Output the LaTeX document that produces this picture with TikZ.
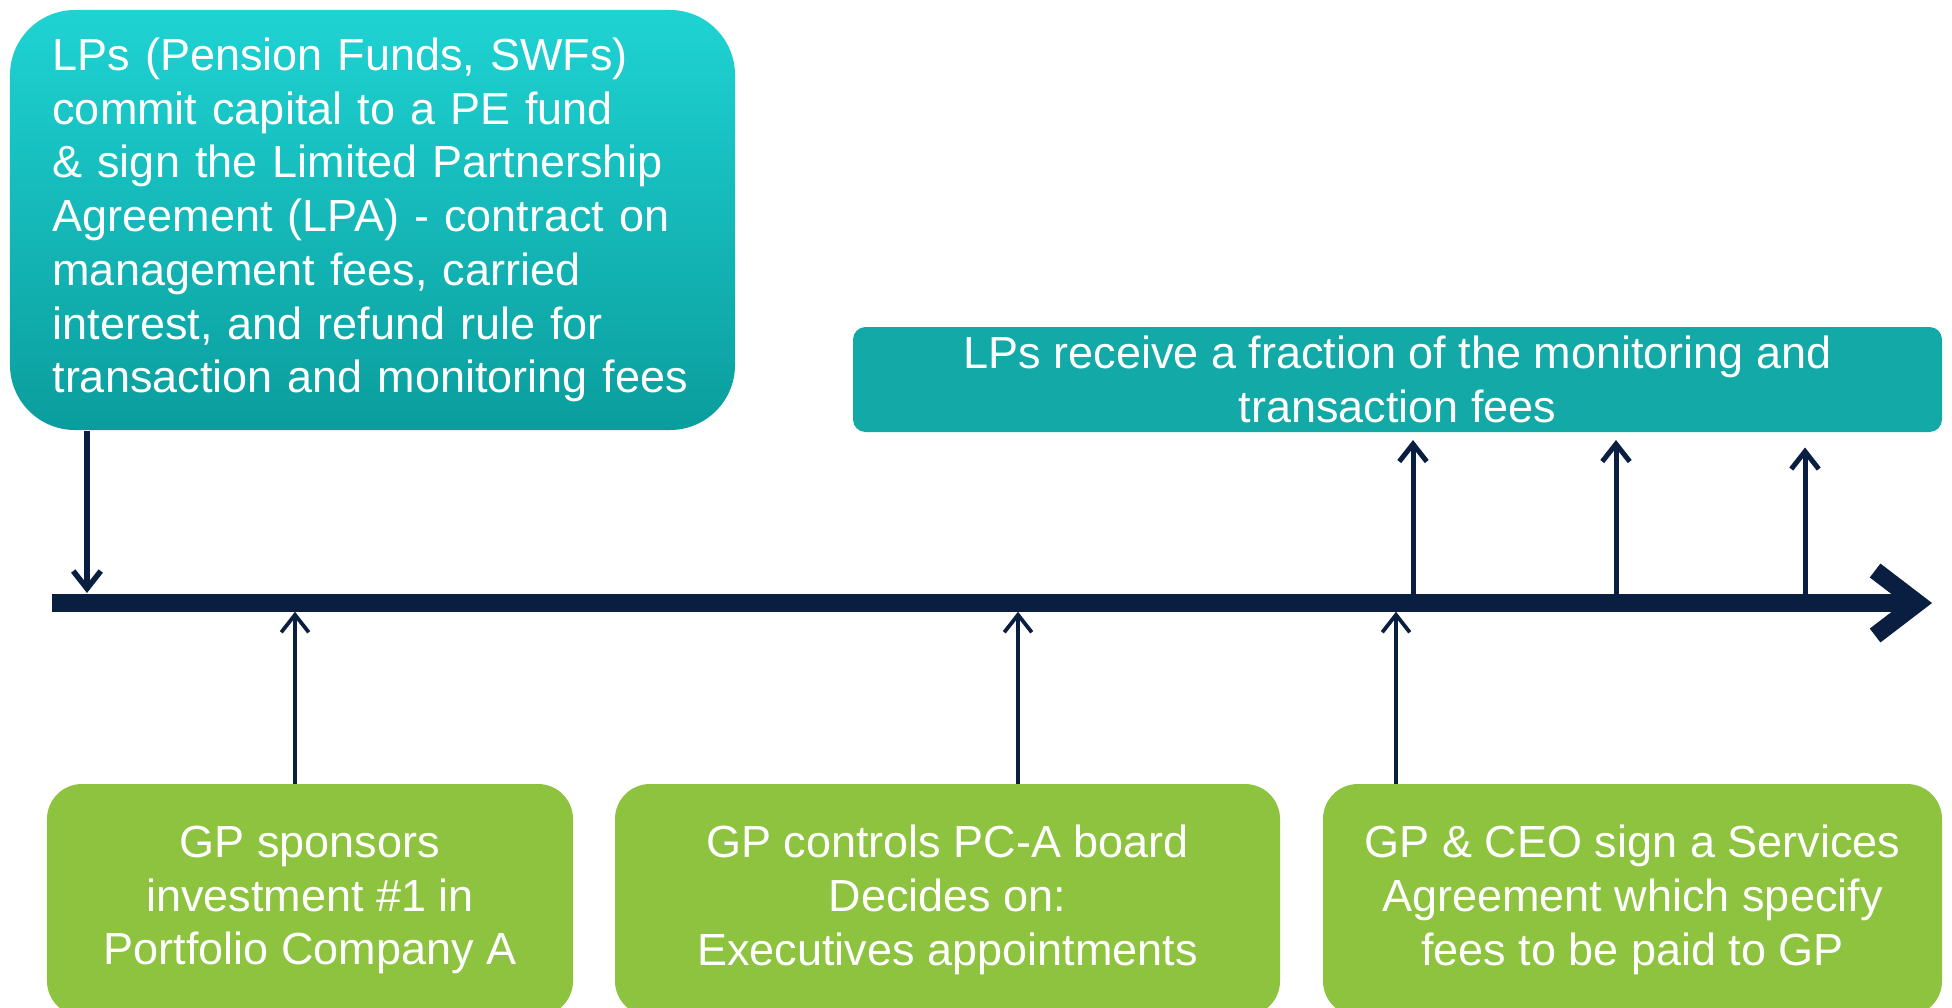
\documentclass[tikz,border=0pt]{standalone}
\usepackage{fontspec}
\setmainfont{Liberation Sans}
\usetikzlibrary{arrows.meta}
\definecolor{navy}{HTML}{0A1E42}
\definecolor{tealtop}{HTML}{1FD3D3}
\definecolor{tealbot}{HTML}{0B9D9D}
\definecolor{tealflat}{HTML}{12A9A6}
\definecolor{leaf}{HTML}{8DC33F}

\begin{document}
\begin{tikzpicture}[x=0.4pt,y=-0.4pt,
  every node/.style={text=white,font=\fontsize{18pt}{21.5pt}\selectfont},
  gpbox/.style={fill=leaf,rounded corners=14pt,minimum height=92.8pt,align=center,inner sep=0pt},
  tick/.style={draw=navy,line width=1.5pt,-{Straight Barb[length=7pt,width=11pt]},shorten >=3.5pt}]
\useasboundingbox (0,0) rectangle (1952,1007);

%put the LP box on the top left
\node[top color=tealtop,bottom color=tealbot,rounded corners=26pt,minimum width=290pt,
  minimum height=168pt,align=left,text width=256pt] (lp) at (372.5,220)
  {LPs (Pension Funds, SWFs)\\commit capital to a PE fund\\\& sign the Limited Partnership\\
   Agreement (LPA) - contract on\\management fees, carried\\interest, and refund rule for\\
   transaction and monitoring fees};

\node[fill=tealflat,rounded corners=5pt,minimum width=435.6pt,minimum height=42pt,
  align=center,inner sep=0pt] (fees) at (1397.5,379.5)
  {LPs receive a fraction of the monitoring and\\transaction fees};

%the time line
\coordinate (start) at (52,603);
\coordinate (end) at (1932,603);
\draw[navy,line width=7pt,-{Straight Barb[length=17pt,width=26pt]}] (start) -- (end);

\coordinate (in1) at (87,603);
\coordinate (s1) at (295,603);
\coordinate (s2) at (1018,603);
\coordinate (s3) at (1396,603);
\coordinate (f1) at (1413,603);
\coordinate (f2) at (1616,603);
\coordinate (f3) at (1805,603);

%put the GP boxes on the bottom
\node[gpbox,minimum width=210.4pt] (b1) at (310,900) {GP sponsors\\investment \#1 in\\Portfolio Company A};
\node[gpbox,minimum width=266pt] (b2) at (947.5,900) {GP controls PC-A board\\Decides on:\\Executives appointments};
\node[gpbox,minimum width=247.6pt] (b3) at (1632.5,900) {GP \& CEO sign a Services\\Agreement which specify\\fees to be paid to GP};

\draw[tick,line width=2.2pt,shorten >=4pt] (lp.south -| in1) -- (in1);
\draw[tick,line width=2pt,shorten >=3pt] (f1) -- (fees.south -| f1);
\draw[tick,line width=2pt,shorten >=3pt] (f2) -- (fees.south -| f2);
\draw[tick,line width=2pt,shorten >=6pt] (f3) -- (fees.south -| f3);

\draw[tick] (b1.north -| s1) -- (s1);
\draw[tick] (b2.north -| s2) -- (s2);
\draw[tick] (b3.north -| s3) -- (s3);

\end{tikzpicture}
\end{document}
